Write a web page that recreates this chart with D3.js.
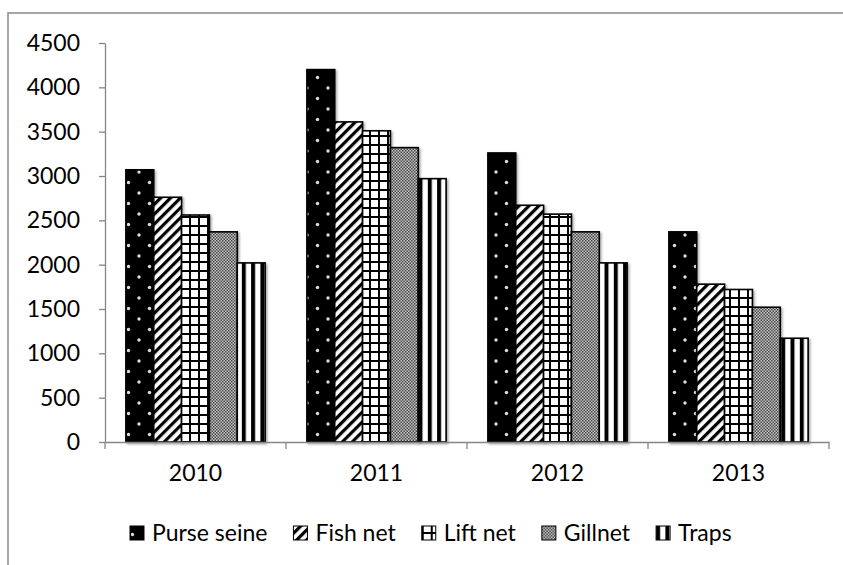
<!DOCTYPE html>
<html>
<head>
<meta charset="utf-8">
<script src="https://cdn.jsdelivr.net/npm/d3@7"></script>
<style>
  body { margin: 0; background: #fff; }
  svg { display: block; font-family: Lato, "Open Sans", sans-serif; }
</style>
</head>
<body>
<div id="chart"></div>
<script>
const years = ['2010', '2011', '2012', '2013'];
const seriesNames = ['Purse seine', 'Fish net', 'Lift net', 'Gillnet', 'Traps'];
const purseSeine = [3070, 4200, 3260, 2370];
const fishNet = [2760, 3610, 2670, 1780];
const liftNet = [2560, 3510, 2570, 1720];
const gillnet = [2370, 3320, 2370, 1520];
const traps = [2020, 2970, 2020, 1170];
const yTicks = [0, 500, 1000, 1500, 2000, 2500, 3000, 3500, 4000, 4500];

const seriesValues = [purseSeine, fishNet, liftNet, gillnet, traps];
const patternIds = ['pat-dots', 'pat-diag', 'pat-grid', 'pat-check', 'pat-vert'];

const W = 843, H = 565;
const svg = d3.select('#chart').append('svg')
  .attr('width', W).attr('height', H);

const defs = svg.append('defs');

// purse seine: black with white dots
const pDots = defs.append('pattern').attr('id', 'pat-dots')
  .attr('patternUnits', 'userSpaceOnUse').attr('width', 21).attr('height', 21);
pDots.append('rect').attr('width', 21).attr('height', 21).attr('fill', '#000');
pDots.append('circle').attr('cx', 13).attr('cy', 4).attr('r', 1.7).attr('fill', '#ddd');
pDots.append('circle').attr('cx', 2.5).attr('cy', 14.5).attr('r', 1.7).attr('fill', '#ddd');
pDots.append('circle').attr('cx', 23.5).attr('cy', 14.5).attr('r', 1.7).attr('fill', '#ddd');

// fish net: wide upward diagonal
const pDiag = defs.append('pattern').attr('id', 'pat-diag')
  .attr('patternUnits', 'userSpaceOnUse').attr('width', 7).attr('height', 7)
  .attr('patternTransform', 'rotate(45)');
pDiag.append('rect').attr('width', 7).attr('height', 7).attr('fill', '#fff');
pDiag.append('rect').attr('width', 3.2).attr('height', 7).attr('fill', '#000');

// lift net: large grid
const pGrid = defs.append('pattern').attr('id', 'pat-grid')
  .attr('patternUnits', 'userSpaceOnUse').attr('width', 9).attr('height', 9);
pGrid.append('rect').attr('width', 9).attr('height', 9).attr('fill', '#fff');
pGrid.append('rect').attr('width', 2).attr('height', 9).attr('fill', '#000');
pGrid.append('rect').attr('width', 9).attr('height', 2).attr('fill', '#000');

// gillnet: small checker
const pCheck = defs.append('pattern').attr('id', 'pat-check')
  .attr('patternUnits', 'userSpaceOnUse').attr('width', 3).attr('height', 3);
pCheck.append('rect').attr('width', 3).attr('height', 3).attr('fill', '#c8c8c8');
pCheck.append('rect').attr('width', 1.5).attr('height', 1.5).attr('fill', '#444');
pCheck.append('rect').attr('x', 1.5).attr('y', 1.5).attr('width', 1.5).attr('height', 1.5).attr('fill', '#444');

// traps: wide vertical stripes
const pVert = defs.append('pattern').attr('id', 'pat-vert')
  .attr('patternUnits', 'userSpaceOnUse').attr('width', 9.3).attr('height', 10);
pVert.append('rect').attr('width', 9.3).attr('height', 10).attr('fill', '#fff');
pVert.append('rect').attr('width', 4).attr('height', 10).attr('fill', '#000');

const shadow = defs.append('filter').attr('id', 'shadow')
  .attr('x', '-20%').attr('y', '-20%').attr('width', '140%').attr('height', '140%');
shadow.append('feDropShadow').attr('dx', 1.5).attr('dy', 1.5)
  .attr('stdDeviation', 1.2).attr('flood-color', '#000').attr('flood-opacity', 0.35);

// outer chart border
svg.append('rect')
  .attr('x', 8).attr('y', 13).attr('width', W + 20).attr('height', H + 20)
  .attr('fill', 'none').attr('stroke', '#898989').attr('stroke-width', 1.5);

const x = d3.scaleBand().domain(years).range([105, 829]).padding(0);
const x1 = d3.scaleBand().domain(seriesNames).range([0, x.bandwidth()])
  .paddingInner(0).paddingOuter(0.75);
const y = d3.scaleLinear().domain([0, 4500]).range([442, 43]);

// y axis
const yAxis = svg.append('g')
  .attr('transform', 'translate(105,0)')
  .call(d3.axisLeft(y).tickValues(yTicks).tickFormat(d3.format('d'))
    .tickSize(6).tickSizeOuter(0).tickPadding(19));
yAxis.select('.domain').attr('stroke', '#868686').attr('stroke-width', 1.3);
yAxis.selectAll('.tick line').attr('stroke', '#868686').attr('stroke-width', 1.3);
yAxis.selectAll('.tick text').attr('font-size', 23).attr('fill', '#000')
  .attr('font-family', 'Lato, "Open Sans", sans-serif');

// bars
const groups = svg.append('g').selectAll('g')
  .data(seriesNames)
  .join('g')
  .attr('fill', (d, i) => `url(#${patternIds[i]})`);

groups.selectAll('rect')
  .data((s, i) => years.map((yr, j) => ({ yr, s, v: seriesValues[i][j] })))
  .join('rect')
  .attr('x', d => x(d.yr) + x1(d.s))
  .attr('y', d => y(d.v))
  .attr('width', x1.bandwidth())
  .attr('height', d => y(0) - y(d.v))
  .attr('stroke', '#000')
  .attr('stroke-width', 1.6)
  .attr('filter', 'url(#shadow)');

// x axis
const xAxis = svg.append('g')
  .attr('transform', 'translate(0,442)')
  .call(d3.axisBottom(x).tickSize(0).tickSizeOuter(0).tickPadding(23));
xAxis.select('.domain').attr('stroke', '#868686').attr('stroke-width', 1.3);
xAxis.selectAll('.tick text').attr('font-size', 23).attr('fill', '#000')
  .attr('font-family', 'Lato, "Open Sans", sans-serif');
const bounds = years.map(d => x(d)).concat([x(years[years.length - 1]) + x.bandwidth()]);
xAxis.selectAll('.sep')
  .data(bounds)
  .join('line')
  .attr('class', 'sep')
  .attr('x1', d => d).attr('x2', d => d)
  .attr('y1', 0).attr('y2', 7)
  .attr('stroke', '#868686').attr('stroke-width', 1.3);

// legend
const legend = svg.append('g').attr('transform', 'translate(0,541)');
let lx = 0;
seriesNames.forEach((name, i) => {
  const g = legend.append('g');
  g.append('rect')
    .attr('x', 0).attr('y', -15).attr('width', 14).attr('height', 14)
    .attr('fill', `url(#${patternIds[i]})`)
    .attr('stroke', '#000').attr('stroke-width', 1);
  const t = g.append('text')
    .attr('x', 22).attr('y', 0)
    .attr('font-size', 23).attr('fill', '#000')
    .text(name);
  const w = 22 + t.node().getComputedTextLength();
  g.attr('transform', `translate(${lx},0)`);
  lx += w + 26;
});
const total = lx - 26;
legend.attr('transform', `translate(${Math.round(431 - total / 2)},541)`);
</script>
</body>
</html>
